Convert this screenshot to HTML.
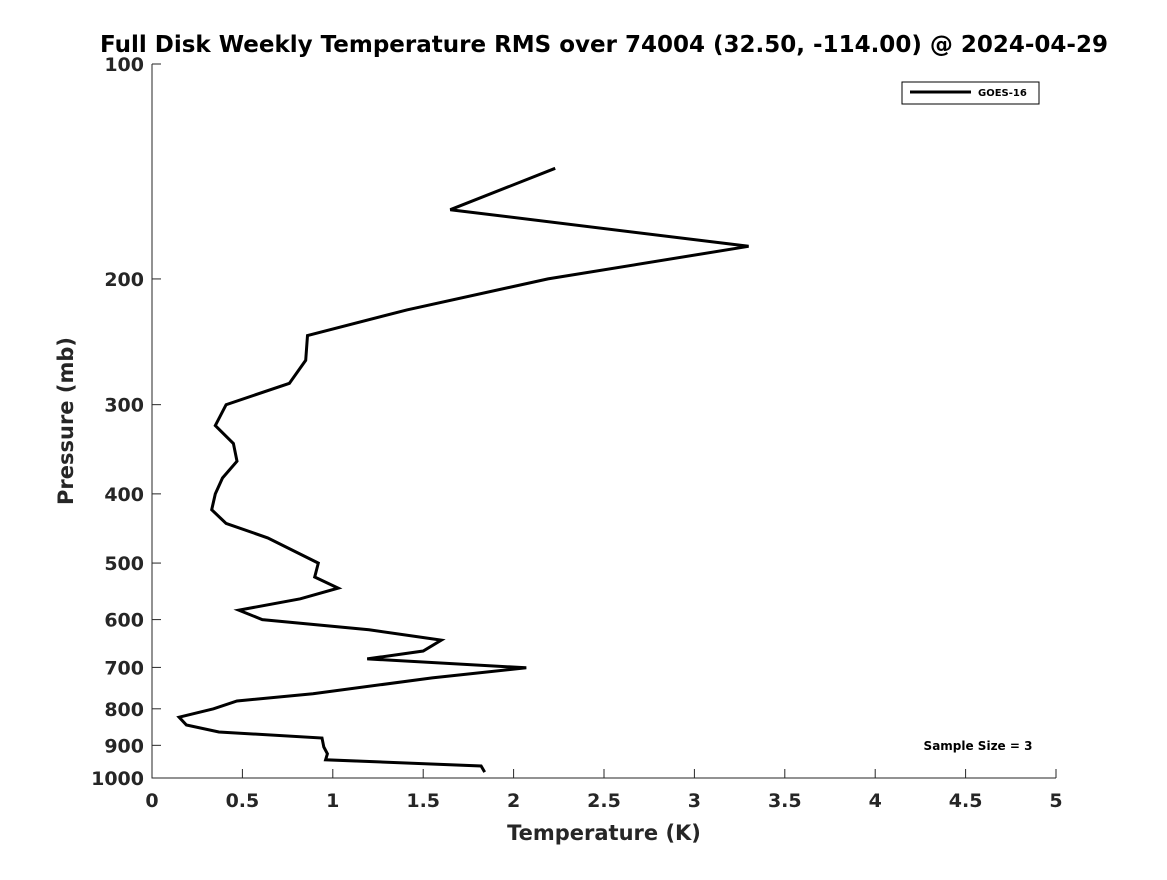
<!DOCTYPE html>
<html><head><meta charset="utf-8"><style>
body{margin:0;background:#fff;}
svg text{font-family:"DejaVu Sans","Liberation Sans",sans-serif;font-weight:bold;fill:#262626;}
</style></head><body>
<svg width="1167" height="875" viewBox="0 0 1167 875">
<rect width="1167" height="875" fill="#fff"/>
<text x="604" y="52" font-size="23" text-anchor="middle" style="fill:#000">Full Disk Weekly Temperature RMS over 74004 (32.50, -114.00) @ 2024-04-29</text>
<g id="axes"></g>
<g id="plot"></g>
<rect x="902" y="82" width="137" height="22" fill="#fff" stroke="#000" stroke-width="1"/>
<line x1="910" y1="92" x2="971" y2="92" stroke="#000" stroke-width="3"/>
<text x="978" y="96" font-size="10" style="fill:#000">GOES-16</text>
<text x="978" y="750" font-size="12" text-anchor="middle" style="fill:#000">Sample Size = 3</text>
<text x="604" y="840" font-size="21" text-anchor="middle">Temperature (K)</text>
<text transform="translate(73,421) rotate(-90)" font-size="21" text-anchor="middle">Pressure (mb)</text>
</svg>
<script>
const pressures=[140,160,180,200,221,240,260,280,300,321,340,360,380,400,421,440,461,500,523,542,561,582,600,620,641,664,681,701,724,762,780,800,822,843,862,879,905,925,943,962,981];
const rmsValues=[2.23,1.65,3.30,2.19,1.41,0.86,0.85,0.76,0.41,0.35,0.45,0.47,0.39,0.35,0.33,0.41,0.64,0.92,0.90,1.03,0.82,0.48,0.61,1.20,1.60,1.50,1.19,2.07,1.55,0.89,0.47,0.34,0.15,0.19,0.37,0.94,0.95,0.97,0.96,1.82,1.84];
const xTicks=[0,0.5,1,1.5,2,2.5,3,3.5,4,4.5,5];
const yTicks=[100,200,300,400,500,600,700,800,900,1000];
const X0=152,X1=1056,Y0=64,Y1=778;
const xs=v=>X0+(v-0)/(5-0)*(X1-X0);
const ys=p=>Y0+Math.log10(p/100)*(Y1-Y0);
const NS='http://www.w3.org/2000/svg';
const axes=document.getElementById('axes'),plot=document.getElementById('plot');
function mk(t,a,parent){const e=document.createElementNS(NS,t);for(const k in a)e.setAttribute(k,a[k]);parent.appendChild(e);return e;}
let ax=mk('path',{d:`M${X0},${Y0}V${Y1}H${X1}`,fill:'none',stroke:'#262626','stroke-width':1},axes);


xTicks.forEach(v=>{const x=xs(v);
const t=mk('line',{x1:x,x2:x,y1:Y1,y2:Y1-9,stroke:'#262626'},axes);


const l=mk('text',{x:x,y:Y1+29,'font-size':19,'text-anchor':'middle'},axes);l.textContent=v;

});
yTicks.forEach(p=>{const y=ys(p);
const t=mk('line',{x1:X0,x2:X0+9,y1:y,y2:y,stroke:'#262626'},axes);


const l=mk('text',{x:X0-8,y:y+7,'font-size':19,'text-anchor':'end'},axes);l.textContent=p;

});
const d=rmsValues.map((v,i)=>(i?'L':'M')+xs(v).toFixed(1)+','+ys(pressures[i]).toFixed(1)).join('');
const line=mk('path',{d:d,fill:'none',stroke:'#000','stroke-width':3,'stroke-linejoin':'miter'},plot);


</script>
</body></html>
